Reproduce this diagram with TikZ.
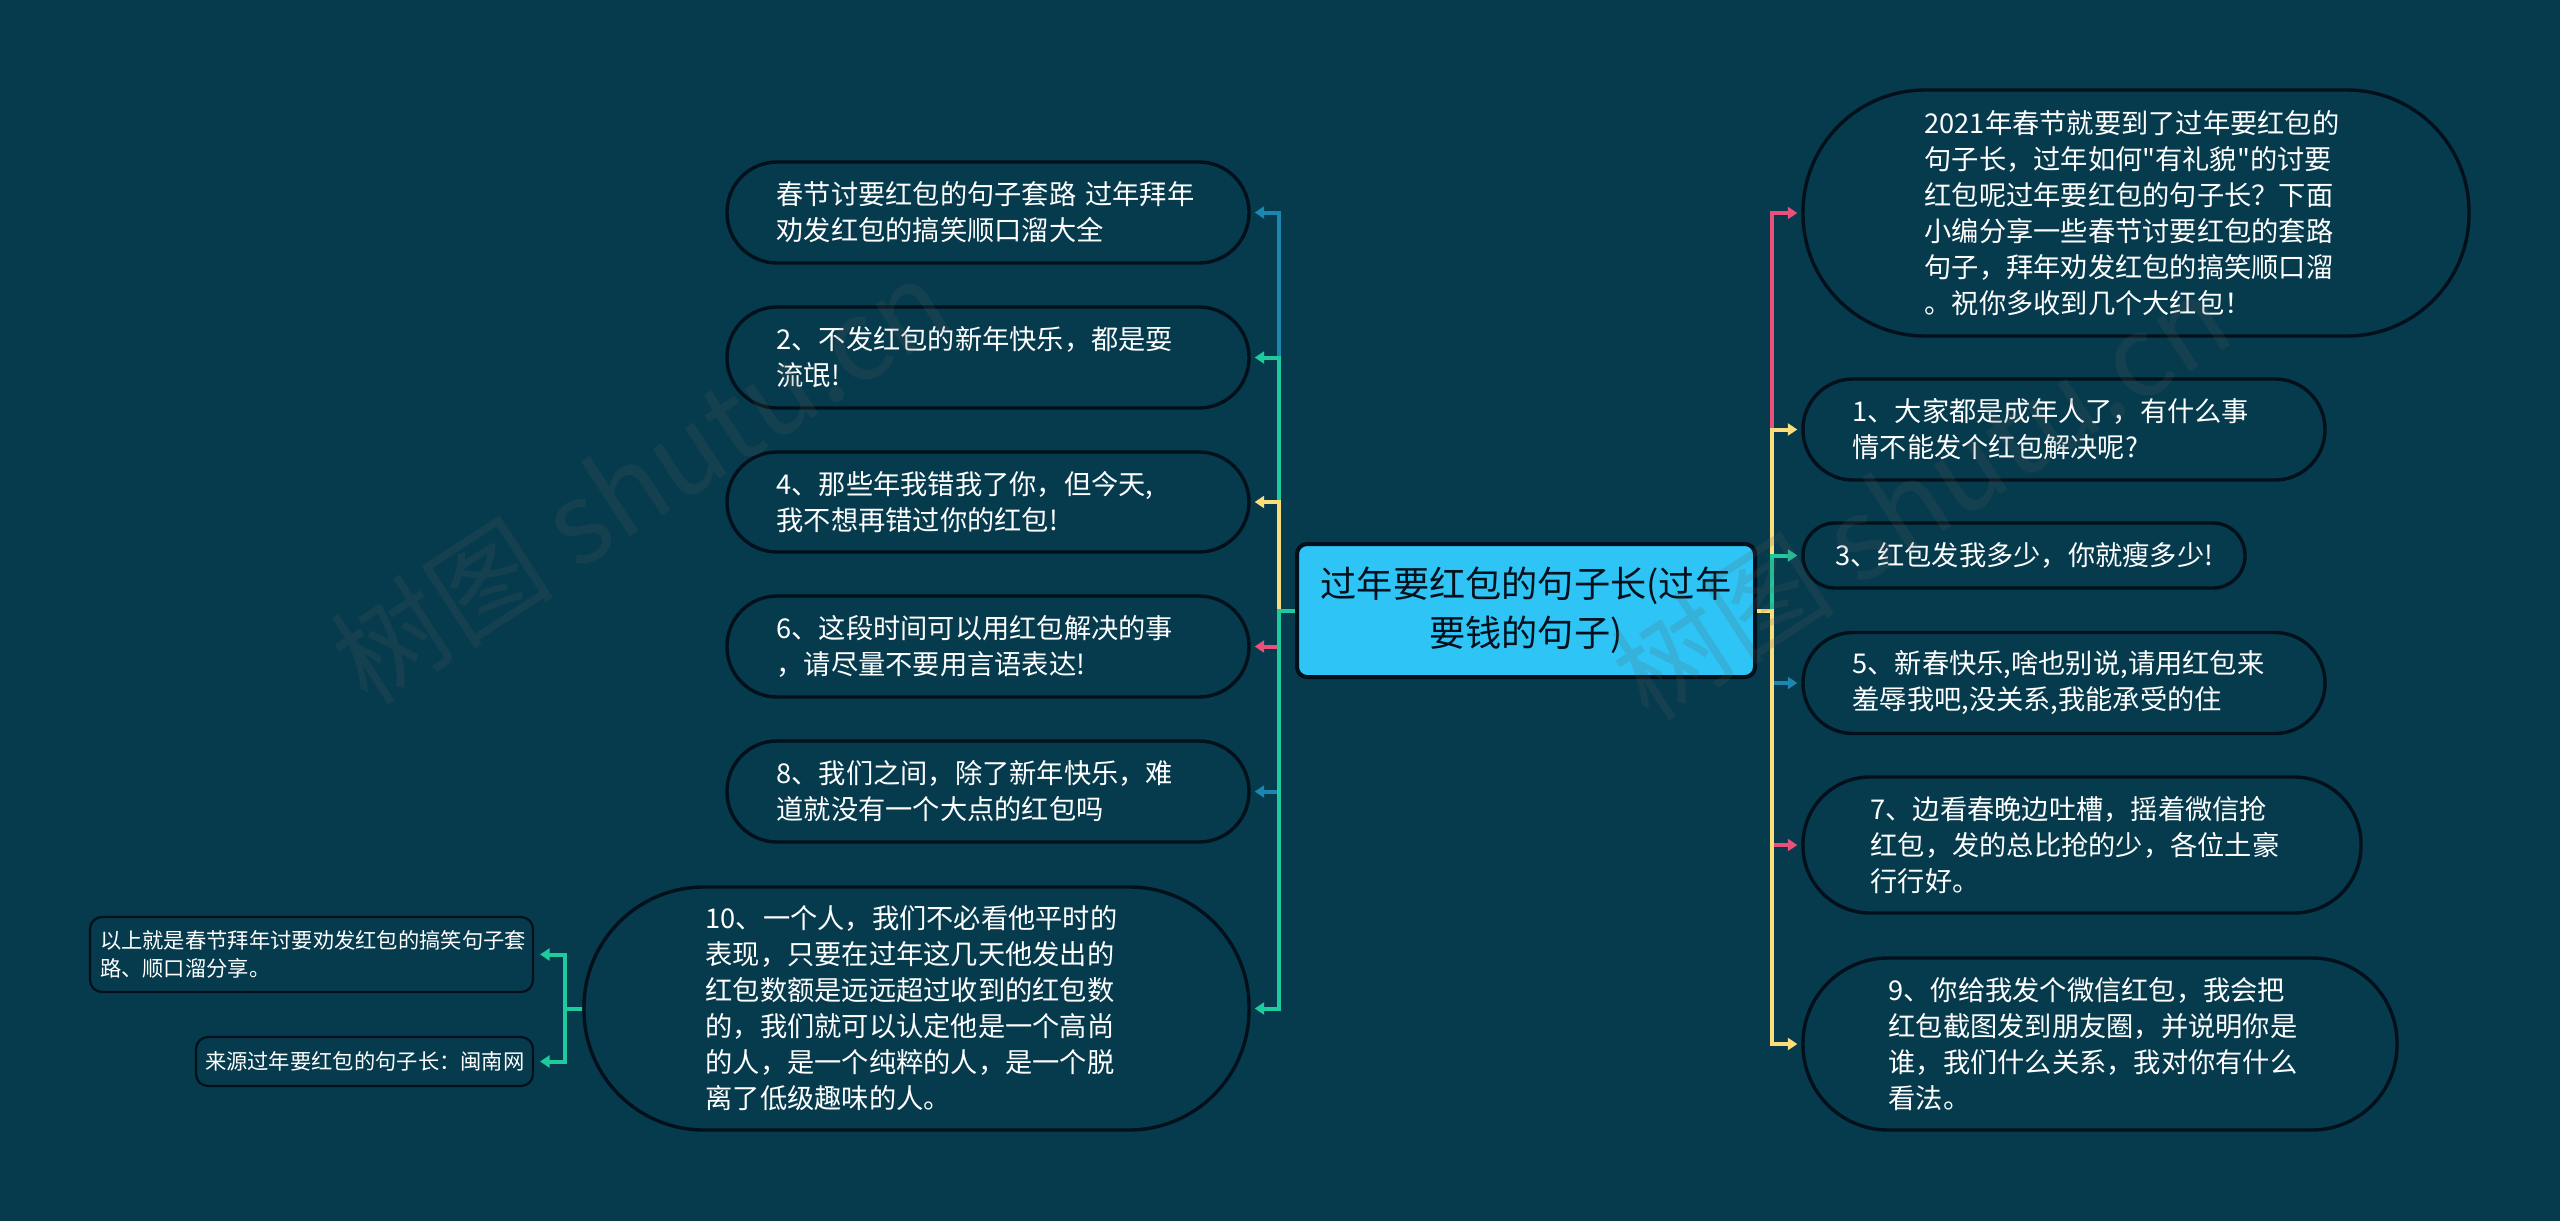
\documentclass[tikz,border=0pt]{standalone}
\usepackage{fontspec}
\newfontfamily\cnf{Noto Sans CJK SC}
\usetikzlibrary{arrows.meta}
\definecolor{bgc}{HTML}{063B4E}
\definecolor{linec}{HTML}{01101A}
\definecolor{rootc}{HTML}{2EC4F6}
\definecolor{gre}{HTML}{1FCB9E}
\definecolor{yel}{HTML}{FBDD7C}
\definecolor{pnk}{HTML}{E9507A}
\definecolor{blu}{HTML}{1D86AE}
\definecolor{markc}{HTML}{5B5B5B}
\tikzset{
  leaf/.style={draw=linec,line width=3.4pt,fill=bgc,text=white,inner sep=0pt,align=left,
    font=\cnf\fontsize{27.25}{36}\selectfont},
  small/.style={draw=linec,line width=2.2pt,fill=bgc,text=white,inner sep=0pt,align=left,rounded corners=12pt,
    font=\cnf\fontsize{21.3}{27.5}\selectfont},
  rootbox/.style={draw=linec,line width=4pt,fill=rootc,text=linec,inner sep=0pt,align=center,rounded corners=10pt,
    font=\cnf\fontsize{36.2}{49}\selectfont},
  link/.style={line width=4pt,-{Triangle[length=9.5pt,width=12pt]},shorten >=4pt},
  sublink/.style={link,shorten >=6pt},
  mark text/.style={text=markc,text opacity=0.18,rotate=33,font=\cnf\fontsize{112}{112}\selectfont,inner sep=0pt}
}
\begin{document}
\begin{tikzpicture}[x=1pt,y=-1pt]
\fill[bgc] (0,0) rectangle (2560,1221);
\useasboundingbox (0,0) rectangle (2560,1221);

\coordinate (tl) at (1279,610.5);
\coordinate (tr) at (1772,610.5);
\coordinate (ts) at (565,1008.5);

% nodes
\node[leaf,minimum width=522pt,minimum height=101pt,text width=423pt,rounded corners=50pt] (n0) at (988,212.5) {春节讨要红包的句子套路 过年拜年\\劝发红包的搞笑顺口溜大全};
\node[leaf,minimum width=522pt,minimum height=101pt,text width=423pt,rounded corners=50pt] (n2) at (988,357.5) {2、不发红包的新年快乐，都是耍\\流氓!};
\node[leaf,minimum width=522pt,minimum height=100pt,text width=423pt,rounded corners=50pt] (n4) at (988,502) {4、那些年我错我了你，但今天,\\我不想再错过你的红包!};
\node[leaf,minimum width=522pt,minimum height=101pt,text width=423pt,rounded corners=50pt] (n6) at (988,646.5) {6、这段时间可以用红包解决的事\\，请尽量不要用言语表达!};
\node[leaf,minimum width=522pt,minimum height=101pt,text width=423pt,rounded corners=50pt] (n8) at (988,791.5) {8、我们之间，除了新年快乐，难\\道就没有一个大点的红包吗};
\node[leaf,minimum width=665pt,minimum height=243pt,text width=422pt,rounded corners=120pt] (n10) at (916.5,1008.5) {10、一个人，我们不必看他平时的\\表现，只要在过年这几天他发出的\\红包数额是远远超过收到的红包数\\的，我们就可以认定他是一个高尚\\的人，是一个纯粹的人，是一个脱\\离了低级趣味的人。};
\node[small,minimum width=443pt,minimum height=75pt,text width=423pt] (s1) at (311.5,954.5) {以上就是春节拜年讨要劝发红包的搞笑句子套\\路、顺口溜分享。};
\node[small,minimum width=337pt,minimum height=49pt,text width=319pt] (s2) at (364.5,1061.5) {来源过年要红包的句子长：闽南网};
\node[rootbox,minimum width=458pt,minimum height=133pt,text width=430pt] (root) at (1526,610.5) {过年要红包的句子长(过年\\要钱的句子)};
\node[leaf,minimum width=666pt,minimum height=246pt,text width=423pt,rounded corners=122pt] (r0) at (2136,213) {2021年春节就要到了过年要红包的\\句子长，过年如何"有礼貌"的讨要\\红包呢过年要红包的句子长？下面\\小编分享一些春节讨要红包的套路\\句子，拜年劝发红包的搞笑顺口溜\\。祝你多收到几个大红包！};
\node[leaf,minimum width=522pt,minimum height=101pt,text width=423pt,rounded corners=50pt] (r1) at (2064,429.5) {1、大家都是成年人了，有什么事\\情不能发个红包解决呢?};
\node[leaf,minimum width=442pt,minimum height=65pt,text width=378pt,rounded corners=32pt] (r3) at (2024,555.5) {3、红包发我多少，你就瘦多少!};
\node[leaf,minimum width=522pt,minimum height=101pt,text width=423pt,rounded corners=50pt] (r5) at (2064,683) {5、新春快乐,啥也别说,请用红包来\\羞辱我吧,没关系,我能承受的住};
\node[leaf,minimum width=558pt,minimum height=136pt,text width=423pt,rounded corners=67pt] (r7) at (2082,845) {7、边看春晚边吐槽，摇着微信抢\\红包，发的总比抢的少，各位土豪\\行行好。};
\node[leaf,minimum width=594pt,minimum height=172pt,text width=423pt,rounded corners=85pt] (r9) at (2100,1044) {9、你给我发个微信红包，我会把\\红包截图发到朋友圈，并说明你是\\谁，我们什么关系，我对你有什么\\看法。};

% connectors: left
\draw[link,blu] (root.west) -- (tl) |- (n0.east);
\draw[link,gre] (root.west) -- (tl) |- (n2.east);
\draw[link,yel] (root.west) -- (tl) |- (n4.east);
\draw[link,pnk] (root.west) -- (tl) |- (n6.east);
\draw[link,blu] (root.west) -- (tl) |- (n8.east);
\draw[link,gre] (root.west) -- (tl) |- (n10.east);
% connectors: right
\draw[link,pnk] (root.east) -- (tr) |- (r0.west);
\draw[link,yel] (root.east) -- (tr) |- (r1.west);
\draw[link,gre] (root.east) -- (tr) |- (r3.west);
\draw[link,blu] (root.east) -- (tr) |- (r5.west);
\draw[link,pnk] (root.east) -- (tr) |- (r7.west);
\draw[link,yel] (root.east) -- (tr) |- (r9.west);
% connectors: sub
\draw[sublink,gre] (n10.west) -- (ts) |- (s1.east);
\draw[sublink,gre] (n10.west) -- (ts) |- (s2.east);

% watermarks lie over everything
\node[mark text] (wm1) at (640,480) {树图 shutu.cn};
\node[mark text] (wm2) at (1921,496) {树图 shutu.cn};
\end{tikzpicture}
\end{document}
